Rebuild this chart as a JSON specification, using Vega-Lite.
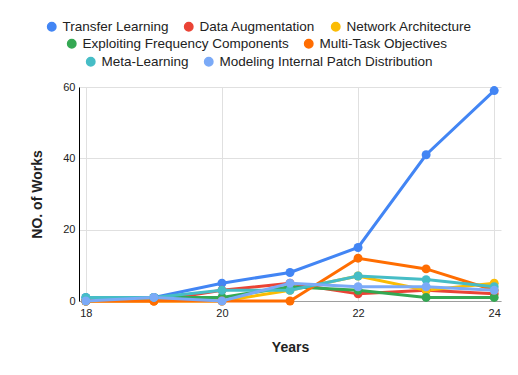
{
  "$schema": "https://vega.github.io/schema/vega-lite/v6.json",
  "width": 422,
  "height": 214,
  "padding": {"left": 30, "top": 20, "right": 18, "bottom": 5},
  "background": "white",
  "data": {"values": [
    {"year": 18, "series": "Transfer Learning", "value": 1},
    {"year": 19, "series": "Transfer Learning", "value": 1},
    {"year": 20, "series": "Transfer Learning", "value": 5},
    {"year": 21, "series": "Transfer Learning", "value": 8},
    {"year": 22, "series": "Transfer Learning", "value": 15},
    {"year": 23, "series": "Transfer Learning", "value": 41},
    {"year": 24, "series": "Transfer Learning", "value": 59},
    {"year": 18, "series": "Data Augmentation", "value": 0},
    {"year": 19, "series": "Data Augmentation", "value": 0},
    {"year": 20, "series": "Data Augmentation", "value": 3},
    {"year": 21, "series": "Data Augmentation", "value": 5},
    {"year": 22, "series": "Data Augmentation", "value": 2},
    {"year": 23, "series": "Data Augmentation", "value": 3},
    {"year": 24, "series": "Data Augmentation", "value": 2},
    {"year": 18, "series": "Network Architecture", "value": 0},
    {"year": 19, "series": "Network Architecture", "value": 0},
    {"year": 20, "series": "Network Architecture", "value": 0},
    {"year": 21, "series": "Network Architecture", "value": 3},
    {"year": 22, "series": "Network Architecture", "value": 7},
    {"year": 23, "series": "Network Architecture", "value": 3},
    {"year": 24, "series": "Network Architecture", "value": 5},
    {"year": 18, "series": "Exploiting Frequency Components", "value": 0},
    {"year": 19, "series": "Exploiting Frequency Components", "value": 1},
    {"year": 20, "series": "Exploiting Frequency Components", "value": 1},
    {"year": 21, "series": "Exploiting Frequency Components", "value": 4},
    {"year": 22, "series": "Exploiting Frequency Components", "value": 3},
    {"year": 23, "series": "Exploiting Frequency Components", "value": 1},
    {"year": 24, "series": "Exploiting Frequency Components", "value": 1},
    {"year": 18, "series": "Multi-Task Objectives", "value": 0},
    {"year": 19, "series": "Multi-Task Objectives", "value": 0},
    {"year": 20, "series": "Multi-Task Objectives", "value": 0},
    {"year": 21, "series": "Multi-Task Objectives", "value": 0},
    {"year": 22, "series": "Multi-Task Objectives", "value": 12},
    {"year": 23, "series": "Multi-Task Objectives", "value": 9},
    {"year": 24, "series": "Multi-Task Objectives", "value": 3},
    {"year": 18, "series": "Meta-Learning", "value": 1},
    {"year": 19, "series": "Meta-Learning", "value": 1},
    {"year": 20, "series": "Meta-Learning", "value": 3},
    {"year": 21, "series": "Meta-Learning", "value": 3},
    {"year": 22, "series": "Meta-Learning", "value": 7},
    {"year": 23, "series": "Meta-Learning", "value": 6},
    {"year": 24, "series": "Meta-Learning", "value": 4},
    {"year": 18, "series": "Modeling Internal Patch Distribution", "value": 0},
    {"year": 19, "series": "Modeling Internal Patch Distribution", "value": 1},
    {"year": 20, "series": "Modeling Internal Patch Distribution", "value": 0},
    {"year": 21, "series": "Modeling Internal Patch Distribution", "value": 5},
    {"year": 22, "series": "Modeling Internal Patch Distribution", "value": 4},
    {"year": 23, "series": "Modeling Internal Patch Distribution", "value": 4},
    {"year": 24, "series": "Modeling Internal Patch Distribution", "value": 3}
  ]},
  "encoding": {
    "x": {"field": "year", "type": "quantitative",
      "scale": {"domain": [17.9, 24.1], "nice": false, "zero": false},
      "axis": {"title": "Years", "values": [18, 20, 22, 24], "grid": true, "ticks": false,
        "domainColor": "#9e9e9e", "labelPadding": 6, "titlePadding": 22}},
    "y": {"field": "value", "type": "quantitative",
      "scale": {"domain": [0, 60], "nice": false},
      "axis": {"title": "NO. of Works", "values": [0, 20, 40, 60], "grid": true, "ticks": false,
        "domainColor": "#000000", "labelPadding": 4, "titlePadding": 18}}
  },
  "layer": [
    {
      "transform": [{"filter": {"field": "series", "oneOf": ["Transfer Learning", "Data Augmentation", "Network Architecture"]}}],
      "encoding": {"color": {"field": "series", "type": "nominal",
        "scale": {"domain": ["Transfer Learning", "Data Augmentation", "Network Architecture"], "range": ["#4285F4", "#EA4335", "#FBBC04"]},
        "legend": {"title": null, "orient": "none", "legendX": -34, "legendY": -67}}},
      "layer": [
        {"mark": {"type": "line", "strokeWidth": 3}},
        {"mark": {"type": "point", "filled": true, "size": 80, "opacity": 1}}
      ]
    },
    {
      "transform": [{"filter": {"field": "series", "oneOf": ["Exploiting Frequency Components", "Multi-Task Objectives"]}}],
      "encoding": {"color": {"field": "series", "type": "nominal",
        "scale": {"domain": ["Exploiting Frequency Components", "Multi-Task Objectives"], "range": ["#34A853", "#FF6D01"]},
        "legend": {"title": null, "orient": "none", "legendX": -14, "legendY": -50}}},
      "layer": [
        {"mark": {"type": "line", "strokeWidth": 3}},
        {"mark": {"type": "point", "filled": true, "size": 80, "opacity": 1}}
      ]
    },
    {
      "transform": [{"filter": {"field": "series", "oneOf": ["Meta-Learning", "Modeling Internal Patch Distribution"]}}],
      "encoding": {"color": {"field": "series", "type": "nominal",
        "scale": {"domain": ["Meta-Learning", "Modeling Internal Patch Distribution"], "range": ["#46BDC6", "#7BAAF7"]},
        "legend": {"title": null, "orient": "none", "legendX": 5, "legendY": -32}}},
      "layer": [
        {"mark": {"type": "line", "strokeWidth": 3}},
        {"mark": {"type": "point", "filled": true, "size": 80, "opacity": 1}}
      ]
    }
  ],
  "resolve": {"scale": {"color": "independent"}},
  "config": {
    "font": "Liberation Sans",
    "view": {"stroke": null},
    "axis": {"labelFont": "Liberation Sans", "labelFontSize": 11, "labelColor": "#222222",
      "titleFont": "Liberation Sans", "titleFontSize": 14, "titleFontWeight": "bold", "titleColor": "#222222",
      "gridColor": "#e0e0e0", "gridWidth": 1},
    "legend": {"direction": "horizontal", "symbolType": "circle", "symbolSize": 70,
      "labelFont": "Liberation Sans", "labelFontSize": 13.5, "labelColor": "#222222", "labelLimit": 400,
      "columnPadding": 12, "padding": 0}
  }
}
